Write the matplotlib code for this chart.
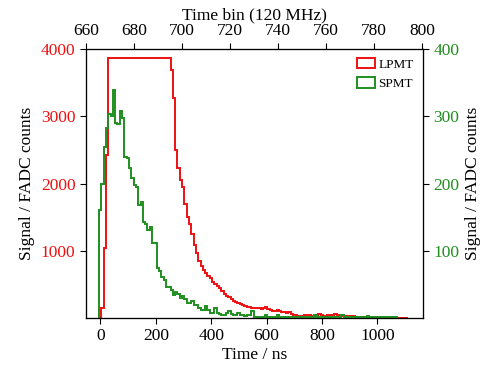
import numpy as np
import matplotlib
matplotlib.use("Agg")
import matplotlib.pyplot as plt
from matplotlib.patches import Patch

plt.rcParams['font.family'] = ['Liberation Serif', 'DejaVu Serif']

# bins: 120 MHz sampling -> 8.33 ns per bin, first bin edge at -5 ns
t_start = -5.0
bin_ns = 1000.0 / 120.0

# large PMT (left axis, FADC counts), saturates at ~3870
lpmt = [0, 150, 1040, 2420,
        3870, 3870, 3870, 3870, 3870, 3870, 3870, 3870, 3870, 3870,
        3870, 3870, 3870, 3870, 3870, 3870, 3870, 3870, 3870, 3870,
        3870, 3870, 3870, 3870, 3870, 3870, 3870,
        3685, 3265, 2496, 2229, 2050, 1950, 1700, 1505, 1400, 1250,
        1080, 960, 850, 770, 713, 663, 630, 600, 540, 510,
        470, 441, 400, 360, 330, 310, 280, 260, 240, 225,
        210, 193, 185, 170, 168, 150, 145, 150, 150, 140,
        145, 160, 130, 120, 105, 110, 115, 100, 95, 85,
        80, 90, 60, 45, 40, 30, 35, 30, 40, 45,
        40, 35, 30, 40, 60, 45, 35, 30, 40, 35,
        45, 55, 50, 35, 30, 25, 30, 30, 25, 30,
        20, 20, 15, 20, 15, 10, 8, 5, 3, 5,
        2, 3, 1, 2, 0, 1, 2, 1, 0, 1, 0, 1, 0]

# small PMT (right axis, FADC counts)
spmt = [160, 200, 255, 282, 304, 300, 339, 290, 288, 308,
        297, 240, 238, 223, 208, 198, 195, 168, 172, 143,
        140, 131, 136, 111, 111, 74, 70, 61, 56, 46,
        46, 42, 34, 39, 35, 30, 32, 28, 22, 22,
        25, 19, 19, 15, 12, 12, 18, 12, 7, 8,
        15, 7, 6, 5, 5, 8, 10, 6, 5, 5,
        7, 5, 4, 3, 4, 5, 10, 1, 2, 1,
        1, 2, 5, 1, 1, 1, 2, 5, 1, 1,
        1, 1, 1, 2, 1, 1, 1, 1, 1, 1,
        2, 1, 1, 4, 1, 1, 1, 1, 1, 1,
        1, 1, 1, 1, 1, 4, 1, 1, 1, 1,
        1, 1, 1, 1, 1, 1, 3, 1, 1, 1,
        1, 1, 1, 1, 1, 1, 2, 1, 1]

red = '#ee1111'
green = '#1f8f1f'

fig = plt.figure(figsize=(4.85, 3.69), dpi=100)
ax = fig.add_axes([0.1773, 0.1382, 0.6949, 0.729])
ax2 = ax.twinx()
ax3 = ax.twiny()

edges_l = t_start + bin_ns * np.arange(len(lpmt) + 1)
edges_s = t_start + bin_ns * np.arange(len(spmt) + 1)

ax.stairs(lpmt, edges_l, color=red, lw=1.4)
ax2.stairs(spmt, edges_s, color=green, lw=1.4)

ax.set_xlim(-52, 1165)
ax.set_ylim(0, 4000)
ax2.set_ylim(0, 400)
ax3.set_xlim(660, 800.3)

ax.set_xticks([0, 200, 400, 600, 800, 1000])
ax.set_yticks([1000, 2000, 3000, 4000])
ax2.set_yticks([100, 200, 300, 400])
ax3.set_xticks(np.arange(660, 801, 20))

for a in (ax, ax2, ax3):
    a.tick_params(direction='out', length=4, width=0.8, labelsize=12.5)
ax.tick_params(axis='y', labelcolor=red)
ax2.tick_params(axis='y', labelcolor=green)

ax.set_xlabel('Time / ns', fontsize=12.5, labelpad=2)
ax.set_ylabel('Signal / FADC counts', fontsize=12.5)
ax2.set_ylabel('Signal / FADC counts', fontsize=12.5)
ax3.set_xlabel('Time bin (120 MHz)', fontsize=12.5, labelpad=2)

handles = [Patch(facecolor='none', edgecolor=red, lw=1.4),
           Patch(facecolor='none', edgecolor=green, lw=1.4)]
ax.legend(handles, ['LPMT', 'SPMT'], loc='upper right', frameon=False,
          fontsize=9.5, handlelength=1.3, handleheight=0.8,
          handletextpad=0.3, labelspacing=0.5, borderaxespad=0.3)

fig.savefig('out.png', dpi=100)
